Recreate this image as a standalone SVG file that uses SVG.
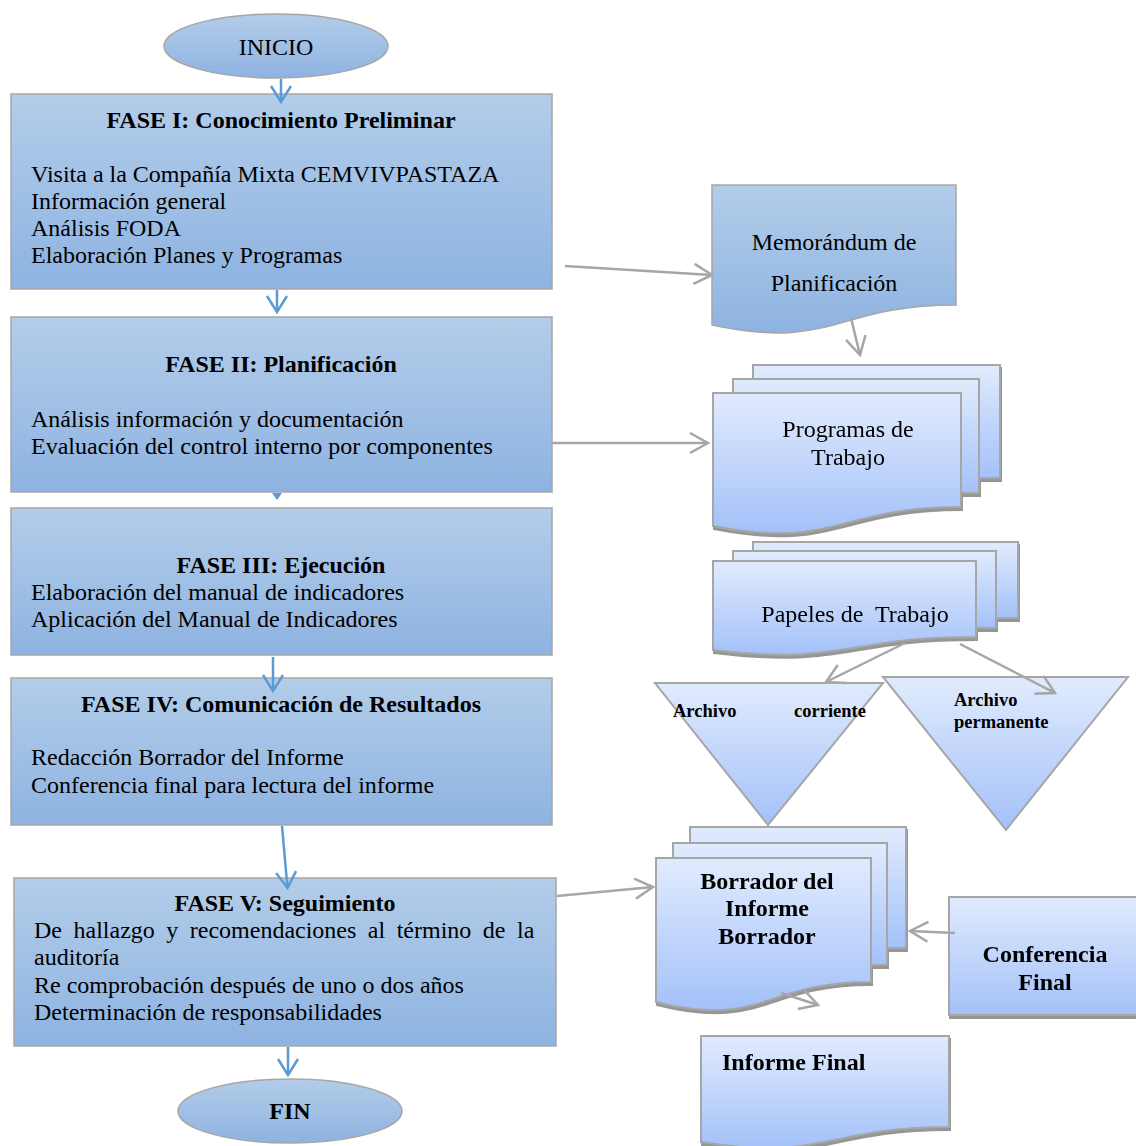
<svg xmlns="http://www.w3.org/2000/svg" width="1136" height="1146" viewBox="0 0 1136 1146">
<defs>
<linearGradient id="gDark" x1="0" y1="0" x2="0" y2="1">
<stop offset="0" stop-color="#b3cde9"/>
<stop offset="1" stop-color="#8eb3e1"/>
</linearGradient>
<linearGradient id="gLight" x1="0" y1="0" x2="0" y2="1">
<stop offset="0" stop-color="#e1ebfd"/>
<stop offset="1" stop-color="#a3c1f9"/>
</linearGradient>
<filter id="shadow" x="-10%" y="-10%" width="130%" height="130%">
<feDropShadow dx="1" dy="3" stdDeviation="0.6" flood-color="#8a8a8a" flood-opacity="0.9"/>
</filter>
<marker id="blueArrow" markerUnits="userSpaceOnUse" markerWidth="22" markerHeight="24" viewBox="-20 -12 22 24" refX="0" refY="0" orient="auto">
<path d="M-16,-10 L0,0 L-16,10" fill="none" stroke="#5b9bd5" stroke-width="2.5"/>
</marker>
<marker id="grayArrow" markerUnits="userSpaceOnUse" markerWidth="22" markerHeight="26" viewBox="-20 -13 22 26" refX="0" refY="0" orient="auto">
<path d="M-18,-10 L0,0 L-18,10" fill="none" stroke="#a6a6a6" stroke-width="2.5"/>
</marker>
</defs>
<style>
.phase{fill:url(#gDark);stroke:#a6a6a6;stroke-width:1.5}
.light{fill:url(#gLight);stroke:#a6a6a6;stroke-width:2}
.t{font-family:"Liberation Serif","Times New Roman",serif;font-size:24px;fill:#000}
.b{font-weight:bold}
.c{text-anchor:middle}
.s{font-size:18.5px}
.blue{stroke:#5b9bd5;stroke-width:2.5;fill:none}
.gray{stroke:#a6a6a6;stroke-width:2.5;fill:none}
</style>
<rect width="1136" height="1146" fill="#fff"/>

<g id="inicio">
<ellipse cx="276" cy="46" rx="112" ry="32" class="phase"/>
<text x="276" y="55" class="t c">INICIO</text>
</g>

<g id="fase1">
<rect x="11" y="94" width="541" height="195" class="phase"/>
<text x="281" y="128" class="t b c">FASE I: Conocimiento Preliminar</text>
<text x="31" y="182" class="t">Visita a la Compañía Mixta CEMVIVPASTAZA</text>
<text x="31" y="209" class="t">Información general</text>
<text x="31" y="236" class="t">Análisis FODA</text>
<text x="31" y="263" class="t">Elaboración Planes y Programas</text>
</g>

<g id="fase2">
<rect x="11" y="317" width="541" height="175" class="phase"/>
<text x="281" y="372" class="t b c">FASE II: Planificación</text>
<text x="31" y="427" class="t">Análisis información y documentación</text>
<text x="31" y="454" class="t">Evaluación del control interno por componentes</text>
</g>

<g id="fase3">
<rect x="11" y="508" width="541" height="147" class="phase"/>
<text x="281" y="573" class="t b c">FASE III: Ejecución</text>
<text x="31" y="600" class="t">Elaboración del manual de indicadores</text>
<text x="31" y="627" class="t">Aplicación del Manual de Indicadores</text>
</g>

<g id="fase4">
<rect x="11" y="678" width="541" height="147" class="phase"/>
<text x="281" y="712" class="t b c">FASE IV: Comunicación de Resultados</text>
<text x="31" y="765" class="t">Redacción Borrador del Informe</text>
<text x="31" y="793" class="t">Conferencia final para lectura del informe</text>
</g>

<g id="fase5">
<rect x="14" y="878" width="542" height="168" class="phase"/>
<text x="285" y="911" class="t b c">FASE V: Seguimiento</text>
<text x="34" y="938" class="t" word-spacing="5.5">De hallazgo y recomendaciones al término de la</text>
<text x="34" y="965" class="t">auditoría</text>
<text x="34" y="993" class="t">Re comprobación después de uno o dos años</text>
<text x="34" y="1020" class="t">Determinación de responsabilidades</text>
</g>

<g id="fin">
<ellipse cx="290" cy="1111" rx="112" ry="32" class="phase"/>
<text x="290" y="1119" class="t b c">FIN</text>
</g>

<g id="memorandum">
<path d="M712,185 H956 V305 C834,305 834,351 712,325 Z" class="phase"/>
<text x="834" y="250" class="t c">Memorándum de</text>
<text x="834" y="291" class="t c">Planificación</text>
</g>

<g id="programas" filter="url(#shadow)">
<rect x="753" y="365" width="247" height="113" class="light"/>
<rect x="733" y="379" width="246" height="114" class="light"/>
<path d="M713,393 H961 V507 C837,507 837,550 713,526 Z" class="light"/>
<text x="848" y="437" class="t c">Programas de</text>
<text x="848" y="465" class="t c">Trabajo</text>
</g>

<g id="papeles" filter="url(#shadow)">
<rect x="753" y="542" width="265" height="76" class="light"/>
<rect x="733" y="551" width="263" height="77" class="light"/>
<path d="M713,561 H976 V637 C844,637 844,666 713,650 Z" class="light"/>
<text x="855" y="622" class="t c" xml:space="preserve">Papeles de  Trabajo</text>
</g>

<g id="archivo-corriente">
<polygon points="655,683 883,683 768,825" class="light"/>
<text x="673" y="717" class="t b s">Archivo</text>
<text x="794" y="717" class="t b s">corriente</text>
</g>

<g id="archivo-permanente">
<polygon points="883,677 1128,677 1006,830" class="light"/>
<text x="954" y="706" class="t b s">Archivo</text>
<text x="954" y="728" class="t b s">permanente</text>
</g>

<g id="borrador" filter="url(#shadow)">
<rect x="690" y="827" width="216" height="121" class="light"/>
<rect x="673" y="843" width="214" height="122" class="light"/>
<path d="M656,858 H871 V982 C763,982 763,1029 656,1002 Z" class="light"/>
<text x="767" y="889" class="t b c">Borrador del</text>
<text x="767" y="916" class="t b c">Informe</text>
<text x="767" y="944" class="t b c">Borrador</text>
</g>

<g id="conferencia" filter="url(#shadow)">
<rect x="949" y="897" width="195" height="118" class="light"/>
<text x="1045" y="962" class="t b c">Conferencia</text>
<text x="1045" y="990" class="t b c">Final</text>
</g>

<g id="informe-final" filter="url(#shadow)">
<path d="M701,1036 H949 V1127 C825,1127 825,1162 701,1142 Z" class="light"/>
<text x="722" y="1070" class="t b">Informe Final</text>
</g>

<g id="connectors">
<line x1="281" y1="79" x2="281" y2="102" class="blue" marker-end="url(#blueArrow)"/>
<line x1="277" y1="290" x2="277" y2="312" class="blue" marker-end="url(#blueArrow)"/>
<polygon points="272,493 282,493 277,500" fill="#5b9bd5"/>
<line x1="273" y1="657" x2="273" y2="691" class="blue" marker-end="url(#blueArrow)"/>
<line x1="282" y1="826" x2="287.5" y2="888" class="blue" marker-end="url(#blueArrow)"/>
<line x1="288" y1="1047" x2="288" y2="1075" class="blue" marker-end="url(#blueArrow)"/>
<line x1="565" y1="266" x2="712" y2="275" class="gray" marker-end="url(#grayArrow)"/>
<line x1="851" y1="318" x2="860" y2="355" class="gray" marker-end="url(#grayArrow)"/>
<line x1="552" y1="443" x2="708" y2="443" class="gray" marker-end="url(#grayArrow)"/>
<line x1="905" y1="643" x2="826" y2="682" class="gray" marker-end="url(#grayArrow)"/>
<line x1="960" y1="644" x2="1055" y2="693" class="gray" marker-end="url(#grayArrow)"/>
<line x1="557" y1="896" x2="653" y2="887" class="gray" marker-end="url(#grayArrow)"/>
<line x1="955" y1="933" x2="910" y2="931" class="gray" marker-end="url(#grayArrow)"/>
<line x1="781" y1="993" x2="818" y2="1005" class="gray" marker-end="url(#grayArrow)"/>
</g>
</svg>
